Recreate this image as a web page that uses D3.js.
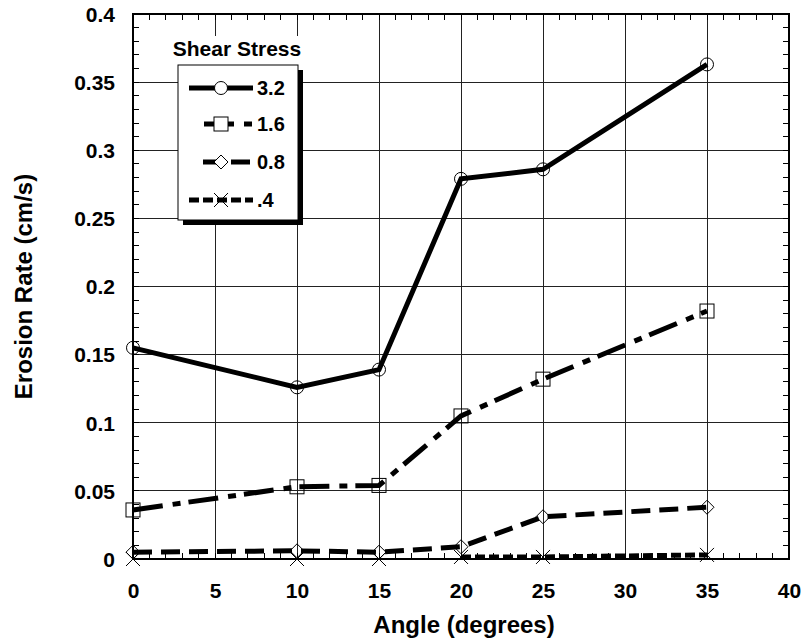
<!DOCTYPE html>
<html><head><meta charset="utf-8">
<script src="https://cdn.jsdelivr.net/npm/d3@7"></script>
<style>
body{margin:0;background:#fff}
text{font-family:"Liberation Sans",Arial,sans-serif;font-weight:bold;fill:#000}
</style>
</head><body><svg id="c" width="804" height="640"></svg>
<script>
// ---- data ----
const angles = [0, 10, 15, 20, 25, 35];
const stress32 = [0.155, 0.126, 0.139, 0.279, 0.286, 0.363];
const stress16 = [0.036, 0.053, 0.054, 0.105, 0.132, 0.182];
const stress08 = [0.005, 0.006, 0.005, 0.009, 0.031, 0.038];
const stress04 = [0, 0, 0, 0.0015, 0.0015, 0.003];
const seriesNames = ["3.2", "1.6", "0.8", ".4"];
const xTicks = [0, 5, 10, 15, 20, 25, 30, 35, 40];
const yTicks = [0, 0.05, 0.1, 0.15, 0.2, 0.25, 0.3, 0.35, 0.4];
const yTickLabels = ["0", "0.05", "0.1", "0.15", "0.2", "0.25", "0.3", "0.35", "0.4"];
const legendTitle = "Shear Stress";
const xTitle = "Angle (degrees)";
const yTitle = "Erosion Rate (cm/s)";

// ---- layout ----
const L = 133, R = 789, T = 14, B = 559;
const svg = d3.select("#c");
const x = d3.scaleLinear().domain([0, 40]).range([L, R]);
const y = d3.scaleLinear().domain([0, 0.4]).range([B, T]);

// grid
const grid = svg.append("g").attr("shape-rendering", "crispEdges");
grid.selectAll("line.v").data(xTicks).join("line")
  .attr("x1", d => x(d)).attr("x2", d => x(d)).attr("y1", T).attr("y2", B)
  .attr("stroke", "#222").attr("stroke-width", 1);
grid.selectAll("line.h").data(yTicks).join("line")
  .attr("x1", L).attr("x2", R).attr("y1", d => y(d)).attr("y2", d => y(d))
  .attr("stroke", "#222").attr("stroke-width", 1);

// minor ticks on all four sides
const xMinor = d3.range(0, 41, 1);
const yMinor = d3.range(0, 0.4001, 0.01);
const tk = svg.append("g").attr("stroke", "#000").attr("stroke-width", 1).attr("shape-rendering", "crispEdges");
const mt = 6;
tk.selectAll("line.b").data(xMinor).join("line")
  .attr("x1", d => x(d)).attr("x2", d => x(d)).attr("y1", B).attr("y2", B - mt);
tk.selectAll("line.t").data(xMinor).join("line")
  .attr("x1", d => x(d)).attr("x2", d => x(d)).attr("y1", T).attr("y2", T + mt);
tk.selectAll("line.l").data(yMinor).join("line")
  .attr("x1", L).attr("x2", L + mt).attr("y1", d => y(d)).attr("y2", d => y(d));
tk.selectAll("line.r").data(yMinor).join("line")
  .attr("x1", R).attr("x2", R - mt).attr("y1", d => y(d)).attr("y2", d => y(d));

// frame
svg.append("rect").attr("x", L).attr("y", T).attr("width", R - L).attr("height", B - T)
  .attr("fill", "none").attr("stroke", "#000").attr("stroke-width", 2);

// axes labels via d3 axes
const xAxis = svg.append("g").attr("transform", `translate(0,${B})`)
  .call(d3.axisBottom(x).tickValues(xTicks).tickSize(0).tickPadding(25).tickFormat(d3.format("d")));
xAxis.select(".domain").remove();
xAxis.selectAll("text").attr("font-size", 21).attr("dy", null).attr("y", 39);

const yAxis = svg.append("g").attr("transform", `translate(${L},0)`)
  .call(d3.axisLeft(y).tickValues(yTicks).tickSize(0).tickPadding(18).tickFormat((d, i) => yTickLabels[i]));
yAxis.select(".domain").remove();
yAxis.selectAll("text").attr("font-size", 21).attr("dy", "0.35em");

svg.append("text").attr("x", (L + R) / 2 + 3).attr("y", 633).attr("text-anchor", "middle")
  .attr("font-size", 24).text(xTitle);
svg.append("text").attr("transform", `translate(32,${(T + B) / 2}) rotate(-90)`)
  .attr("text-anchor", "middle").attr("font-size", 24).text(yTitle);

// series
const series = [
  { name: seriesNames[0], vals: stress32, dash: null, marker: "circle" },
  { name: seriesNames[1], vals: stress16, dash: "30,10,8,8", marker: "square" },
  { name: seriesNames[2], vals: stress08, dash: "19,9", marker: "diamond" },
  { name: seriesNames[3], vals: stress04, dash: "10,4", marker: "cross" }
];

function drawMarker(g, type, cx, cy, fill) {
  const s = 7;
  if (type === "circle") {
    g.append("circle").attr("cx", cx).attr("cy", cy).attr("r", 6.5)
      .attr("fill", fill).attr("stroke", "#000").attr("stroke-width", 1);
  } else if (type === "square") {
    g.append("rect").attr("x", cx - s).attr("y", cy - s).attr("width", 2 * s).attr("height", 2 * s)
      .attr("fill", fill).attr("stroke", "#000").attr("stroke-width", 1);
  } else if (type === "diamond") {
    g.append("path").attr("d", `M${cx},${cy - s}L${cx + s},${cy}L${cx},${cy + s}L${cx - s},${cy}Z`)
      .attr("fill", fill).attr("stroke", "#000").attr("stroke-width", 1);
  } else {
    g.append("path").attr("d", `M${cx - s},${cy - s}L${cx + s},${cy + s}M${cx - s},${cy + s}L${cx + s},${cy - s}`)
      .attr("fill", "none").attr("stroke", "#000").attr("stroke-width", 1);
  }
}

const plot = svg.append("g");
series.forEach(s => {
  const pts = angles.map((a, i) => ({ a, v: s.vals[i] }));
  const line = d3.line().x(d => x(d.a)).y(d => y(d.v)).defined(d => d.v > 0);
  plot.append("path").datum(pts).attr("d", line)
    .attr("fill", "none").attr("stroke", "#000").attr("stroke-width", 5)
    .attr("stroke-dasharray", s.dash);
  const mg = plot.append("g");
  pts.forEach(p => drawMarker(mg, s.marker, x(p.a), y(p.v), "none"));
});

// legend
const lg = svg.append("g");
const bx = 178, by = 65, bw = 120, bh = 155;
lg.append("rect").attr("x", 166).attr("y", 36).attr("width", 140).attr("height", 30).attr("fill", "#fff");
lg.append("rect").attr("x", bx + 5).attr("y", by + 5).attr("width", bw).attr("height", bh).attr("fill", "#000");
lg.append("rect").attr("x", bx).attr("y", by).attr("width", bw).attr("height", bh)
  .attr("fill", "#fff").attr("stroke", "#000").attr("stroke-width", 1);
lg.append("text").attr("x", 237).attr("y", 56).attr("text-anchor", "middle").attr("font-size", 21).text(legendTitle);
const rowY = [88, 124, 162, 200];
const lineStart = [189, 204, 203, 189];
series.forEach((s, i) => {
  const yy = rowY[i];
  lg.append("line").attr("x1", lineStart[i]).attr("x2", 253).attr("y1", yy).attr("y2", yy)
    .attr("stroke", "#000").attr("stroke-width", 5).attr("stroke-dasharray", s.dash);
  drawMarker(lg, s.marker, 221, yy, s.marker === "cross" ? "none" : "#fff");
  lg.append("text").attr("x", 257).attr("y", yy + 7).attr("font-size", 20).text(s.name);
});
</script>
</body></html>
